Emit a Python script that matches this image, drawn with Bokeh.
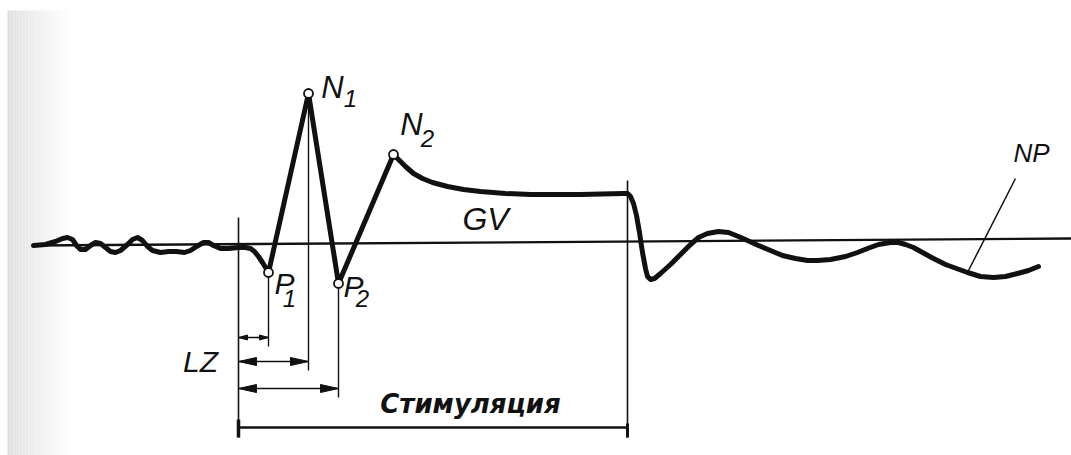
import numpy as np
from bokeh.plotting import figure
from bokeh.models import Range1d
from bokeh.embed import file_html
from bokeh.resources import INLINE
from bokeh.core.properties import value

# ---- recorded trace: time (stimulus onset = 0) and potential -------------
# spontaneous activity before the stimulus
t_pre = [-205, -193, -183, -176, -171, -166, -162, -158, -153, -148, -143,
         -138, -133, -128, -123, -118, -111, -106, -101, -96, -91, -86, -78,
         -70, -62, -54, -48, -42, -35, -30, -25, -18, -10, 0]
v_pre = [-2, -1, 2, 5, 6, 4, -2, -6, -6, -2, 1,
         0, -4, -8, -9, -7, -1, 4, 6, 3, -3, -7, -9,
         -8, -8, -9, -7, -3, 1, 1, -2, -5, -5, -4]
# evoked response during stimulation
t_resp = [7, 12, 16, 20, 24, 27, 30, 70, 100, 155,
          162, 167, 175, 184, 194, 209, 225, 242, 267, 292, 342, 385]
v_resp = [-4, -5, -8, -13, -19, -24, -29, 150, -40, 89,
          82, 77, 70, 65, 61, 57, 54, 52, 50, 49, 49, 50]
# off response and after-potential
t_post = [389, 392, 395, 398, 401, 404, 407, 409, 412, 416, 422, 432, 442,
          452, 460, 469, 480, 490, 500, 509, 520, 532, 544, 557, 569, 579,
          592, 607, 619, 629, 640, 652, 660, 667, 675, 684, 695, 707, 718,
          729, 742, 755, 767, 779, 790, 800]
v_post = [50, 47, 40, 28, 11, -9, -25, -33, -36, -35, -30, -21, -11,
          -1, 6, 10, 12, 11, 7, 3, -2, -7, -12, -15, -17, -17,
          -16, -13, -9, -5, -1, 1, 1, -1, -4, -9, -15, -21, -25,
          -29, -33, -34, -33, -30, -27, -23]

# named extrema of the response
peak_names = ["P1", "N1", "P2", "N2"]
peak_t = [30, 70, 100, 155]
peak_v = [-29, 150, -40, 89]

# zero line
baseline_t = [-205, 833]
baseline_v = [-2, 5]

# stimulation window
stim_on = 0
stim_off = 389
stim_on_top = 26
stim_off_top = 63
stim_bar_v = -184

# latency (LZ) dimension lines, one per peak
lat_peaks = ["P1", "N1", "P2"]
lat_levels = [-94, -118, -145]

# leader line for the after-potential label
np_leader_t = [729, 777]
np_leader_v = [-29, 65]

# text labels
main_text = ["N", "N", "P", "P", "LZ", "GV", "NP"]
main_t = [94, 173, 46, 115, -38, 247, 793]
main_v = [156, 119, -40, -43, -118, 25, 91]
main_size = ["31px", "31px", "30px", "30px", "30px", "32px", "26px"]
sub_text = ["1", "2", "1", "2"]
sub_t = [112, 189, 51, 124]
sub_v = [145, 105, -55, -55]
stim_label = "Стимуляция"
stim_label_t = 232
stim_label_v = -160

W, H = 1071, 455
x0, y_top = -238, 243

p = figure(width=W, height=H, x_range=Range1d(x0, x0 + W),
           y_range=Range1d(y_top - H, y_top),
           x_axis_location=None, y_axis_location=None,
           toolbar_location=None, output_backend="svg",
           min_border=0, outline_line_color=None,
           background_fill_color="white", border_fill_color="white")
p.grid.visible = False

# greyish edge of the scanned page on the left
shade_px = np.arange(7, 70, 3)
for i, xp in enumerate(shade_px):
    g = int(222 + (255 - 222) * (i / (len(shade_px) - 1)) ** 0.8)
    p.quad(left=x0 + xp, right=x0 + xp + 3, bottom=y_top - H, top=y_top - 10,
           fill_color=(g, g, g), line_color=None)

ink = "#111111"

# zero line
p.line(baseline_t, baseline_v, line_color=ink, line_width=2.3)

# stimulation window: onset / offset markers and bar
p.line([stim_on, stim_on], [stim_on_top, stim_bar_v - 10], line_color=ink, line_width=1.6)
p.line([stim_off, stim_off], [stim_off_top, stim_bar_v - 10], line_color=ink, line_width=1.6)
p.line([stim_on, stim_off], [stim_bar_v, stim_bar_v], line_color=ink, line_width=2.6)
p.line([stim_on, stim_on], [stim_bar_v + 8, stim_bar_v - 10], line_color=ink, line_width=3.5)
p.line([stim_off, stim_off], [stim_bar_v + 4, stim_bar_v - 10], line_color=ink, line_width=3)

# latency dimension lines
for name, lev in zip(lat_peaks, lat_levels):
    k = peak_names.index(name)
    tp, vp = peak_t[k], peak_v[k]
    p.line([tp, tp], [vp, lev - 9], line_color=ink, line_width=1.4)
    p.line([stim_on, tp], [lev, lev], line_color=ink, line_width=1.6)
    span = tp - stim_on
    hl = 9 if span < 40 else 18
    hw = 5 if span < 40 else 8
    xs = [[stim_on, stim_on + hl, stim_on + hl], [tp, tp - hl, tp - hl]]
    ys = [[lev, lev + hw / 2, lev - hw / 2], [lev, lev + hw / 2, lev - hw / 2]]
    p.patches(xs, ys, fill_color=ink, line_color=ink, line_width=1)

# response trace
t_trace = t_pre + t_resp + t_post
v_trace = v_pre + v_resp + v_post
p.line(t_trace, v_trace, line_color=ink, line_width=5,
       line_join="round", line_cap="round")

# peak markers
p.scatter(peak_t, peak_v, size=9, marker="circle", fill_color="white",
          line_color=ink, line_width=1.8)

# leader to NP
p.line(np_leader_t, np_leader_v, line_color=ink, line_width=1.5)

font = value("Liberation Sans")
for txt, tt, vv, sz in zip(main_text, main_t, main_v, main_size):
    p.text([tt], [vv], text=[txt], text_font=font, text_font_style="italic",
           text_font_size=sz, text_align="center", text_baseline="middle",
           text_color=ink)
p.text(sub_t, sub_v, text=sub_text, text_font=font, text_font_style="italic",
       text_font_size="24px", text_align="center", text_baseline="middle",
       text_color=ink)
p.text([stim_label_t], [stim_label_v], text=[stim_label],
       text_font=value("DejaVu Sans"), text_font_style="bold italic",
       text_font_size="26px", text_align="center", text_baseline="middle",
       text_color=ink)

open("out.html", "w").write(file_html(p, INLINE))
